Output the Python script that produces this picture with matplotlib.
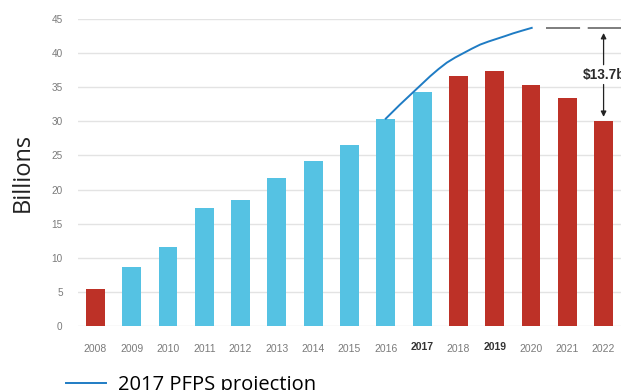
import matplotlib
matplotlib.use("Agg")
import matplotlib.pyplot as plt
import numpy as np

# =====================================================
# Data
# =====================================================

years = [2008, 2009, 2010, 2011, 2012, 2013, 2014, 2015,
         2016, 2017, 2018, 2019, 2020, 2021, 2022]
values = [5.4, 8.7, 11.6, 17.3, 18.5, 21.7, 24.2, 26.6,
          30.4, 34.3, 36.7, 37.4, 35.3, 33.4, 30.0]
bar_group = ["red", "blue", "blue", "blue", "blue", "blue", "blue", "blue",
             "blue", "blue", "red", "red", "red", "red", "red"]
bold_years = [2017, 2019]

# 2017 PFPS projection curve
proj_x = [2016.0, 2016.38, 2016.76, 2017.0, 2017.22, 2017.45, 2017.68, 2017.91,
          2018.14, 2018.37, 2018.6, 2018.83, 2019.06, 2019.29, 2019.51, 2019.76, 2020.02]
proj_y = [30.4, 32.4, 34.3, 35.5, 36.6, 37.65, 38.6, 39.35,
          40.0, 40.65, 41.25, 41.7, 42.1, 42.5, 42.9, 43.3, 43.7]

gap_label = "$13.7b"
gap_top = 43.7
gap_bottom = 30.0

y_ticks = [0, 5, 10, 15, 20, 25, 30, 35, 40, 45]

colors = {"blue": "#55c2e3", "red": "#bd3127"}

# =====================================================
# Figure
# =====================================================

fig = plt.figure(figsize=(6.21, 3.90), dpi=100)
ax = fig.add_axes([78 / 621, 64 / 390, 543 / 621, 307 / 390])

ax.bar(years, values, width=0.52,
       color=[colors[g] for g in bar_group], zorder=2)

line, = ax.plot(proj_x, proj_y, color="#1f7cc4", linewidth=1.4,
                label="2017 PFPS projection", zorder=3)

# dashed reference level
ax.hlines(gap_top, 2020.41, 2022.6, colors="#5a5a5a", linewidth=1.1,
          linestyles=(0, (22.3, 5.0)), zorder=3)

# gap arrows + label
ax.annotate("", xy=(2022, 42.95), xytext=(2022, 38.3),
            arrowprops=dict(arrowstyle="-|>", color="#222222", lw=0.9,
                            mutation_scale=8, shrinkA=0, shrinkB=0))
ax.annotate("", xy=(2022, gap_bottom + 0.65), xytext=(2022, 35.4),
            arrowprops=dict(arrowstyle="-|>", color="#222222", lw=0.9,
                            mutation_scale=8, shrinkA=0, shrinkB=0))
ax.text(2022.02, 36.8, gap_label, ha="center", va="center",
        fontsize=9.8, fontweight="bold", color="#2a2a2a",
        family="Liberation Sans", clip_on=False)

# axes styling
ax.set_xlim(2007.52, 2022.48)
ax.set_ylim(0, 45)
ax.set_yticks(y_ticks)
ax.set_xticks(years)
ax.grid(axis="y", color="#e3e3e3", linewidth=1.0, zorder=0)
ax.set_axisbelow(True)
for s in ax.spines.values():
    s.set_visible(False)
ax.tick_params(axis="both", length=0)
ax.tick_params(axis="y", pad=11, labelsize=7.2, labelcolor="#7a7a7a")
ax.tick_params(axis="x", pad=13, labelsize=7.5, labelcolor="#7a7a7a")

for lab in ax.get_yticklabels():
    lab.set_family("Liberation Sans")
for lab, yr in zip(ax.get_xticklabels(), years):
    lab.set_family("Liberation Sans")
    if yr in bold_years:
        lab.set_fontweight("bold")
        lab.set_color("#333333")
        lab.set_y(0.008)

ax.set_ylabel("Billions", fontsize=17, family="Open Sans", color="#222222",
              labelpad=12)

fig.legend(handles=[line], loc="center left",
           bbox_to_anchor=(66 / 621, 5 / 390), frameon=False,
           handlelength=2.0, handletextpad=0.6,
           borderpad=0, borderaxespad=0,
           prop={"family": "Open Sans", "size": 14.5})

fig.savefig("out.png", dpi=100)
